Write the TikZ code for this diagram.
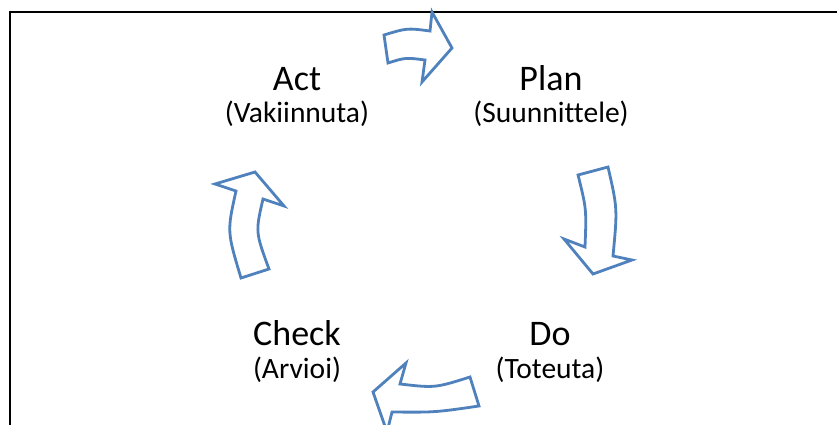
\documentclass[tikz,border=0pt]{standalone}
\usepackage{fontspec}
\setmainfont{Carlito}[Ligatures=NoCommon]
\definecolor{cyclearrow}{RGB}{79,129,189}
\tikzset{
  frameline/.style={line width=2pt, black},
  bentarrow/.style={draw=cyclearrow, fill=white, line width=2.8pt, line join=miter},
  phase/.style={anchor=base, inner sep=0pt, font=\fontsize{36}{43}\selectfont},
  phasenote/.style={anchor=base, inner sep=0pt, font=\fontsize{29.5}{35}\selectfont}
}
\begin{document}
\begin{tikzpicture}[x=1pt, y=-1pt]
  \useasboundingbox (0,0) rectangle (837,425);
  \clip (0,0) rectangle (837,425);

  % open frame: top and left edges only
  \draw[frameline] (10,425) -- (10,12.5) -- (837,12.5);

  % phase labels
  \node[phase]     (act)   at (297,91)  {Act};
  \node[phasenote] (actn)  at (297,123) {(Vakiinnuta)};
  \node[phase]     (plan)  at (551,91)  {Plan};
  \node[phasenote] (plann) at (551,123) {(Suunnittele)};
  \node[phase]     (do)    at (550,345) {Do};
  \node[phasenote] (don)   at (550,378) {(Toteuta)};
  \node[phase]     (check) at (297,345) {Check};
  \node[phasenote] (checkn) at (297,378) {(Arvioi)};

  % Act -> Plan (top, pointing right)
  \draw[bentarrow] (384,35) .. controls (407,28) .. (430,31)
    -- (432,12) -- (452,48) -- (422,82) -- (425,60)
    .. controls (405.5,57.5) .. (388,63) -- cycle;

  % Plan -> Do (right, pointing down)
  \draw[bentarrow] (578,175) -- (608,167)
    .. controls (617.5,208.5) .. (613,256)
    -- (632,260) -- (593,274) -- (564,239) -- (585,247)
    .. controls (586.5,209) .. cycle;

  % Do -> Check (bottom, pointing left)
  \draw[bentarrow] (373,392) -- (406,363) -- (400,384)
    .. controls (435,388) .. (470,377)
    -- (479,406)
    .. controls (435,412.4) .. (392,412)
    -- (387,432) -- cycle;

  % Check -> Act (left, pointing up)
  \draw[bentarrow] (241,278) -- (269,269)
    .. controls (255.4,232) .. (263,199)
    -- (284,206) -- (255,172) -- (215,184) -- (236,191)
    .. controls (227,231.5) .. cycle;
\end{tikzpicture}
\end{document}
